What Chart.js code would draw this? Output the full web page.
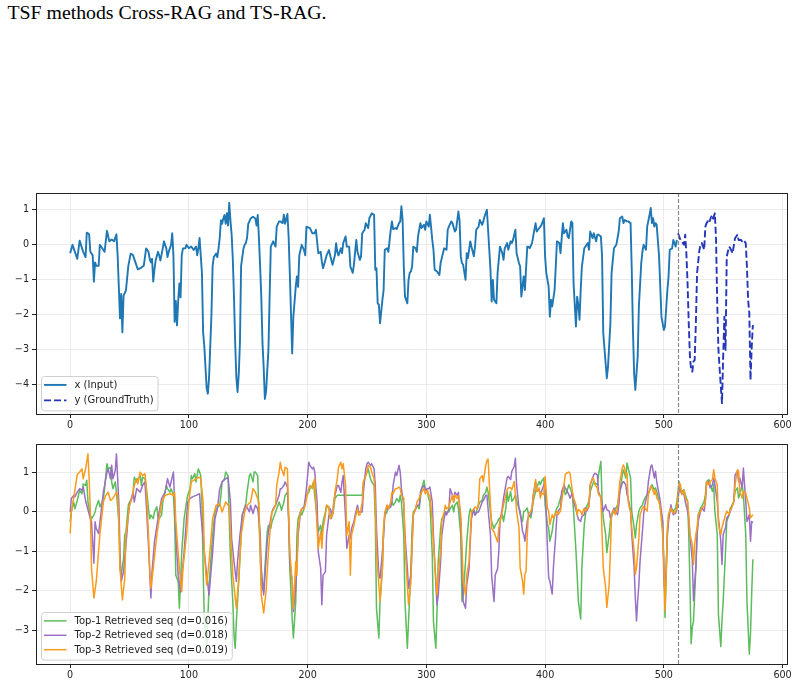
<!DOCTYPE html>
<html>
<head>
<meta charset="utf-8">
<script src="https://cdn.jsdelivr.net/npm/chart.js@4.4.1/dist/chart.umd.min.js"></script>
<style>
  html, body { margin: 0; padding: 0; background: #fff; }
  body { width: 799px; height: 686px; position: relative; overflow: hidden; }
  #caption {
    position: absolute; left: 7.5px; top: 1.5px;
    font: 19.8px "Liberation Serif", "Times New Roman", serif;
    line-height: 20px; color: #000; white-space: nowrap;
  }
  .plot { position: absolute; left: 0; width: 799px; }
  #topWrap { top: 180px; height: 255px; }
  #bottomWrap { top: 435px; height: 251px; }
</style>
</head>
<body>
<div id="caption">TSF methods Cross-RAG and TS-RAG.</div>
<div class="plot" id="topWrap"><canvas id="topChart" width="799" height="255"></canvas></div>
<div class="plot" id="bottomWrap"><canvas id="bottomChart" width="799" height="251"></canvas></div>

<script>
// ---- data: [time index, value] ----
const inputSeries = [[0,-0.24],[2,0],[4,-0.2],[6,-0.4],[8,0.12],[11,-0.2],[13,-0.35],[14,0.35],[16,0.3],[17,-0.2],[19,-0.3],[20,-1.05],[21,-0.5],[22,-0.6],[24,-0.6],[25,0],[27,-0.1],[29,-0.2],[31,0.4],[33,0.1],[35,0.15],[37,0.1],[39,0.3],[40,-0.3],[42,-2.1],[43,-1.4],[44,-2.5],[45,-1.45],[47,-1.3],[49,-0.6],[51,-0.25],[53,-0.3],[55,-0.5],[57,-0.7],[60,-0.65],[62,-0.6],[64,-0.1],[66,-0.2],[67,-0.4],[68,-0.5],[69,-0.4],[70,-1.05],[71,-0.7],[72,-0.45],[74,-0.2],[75,-0.3],[76,-0.45],[78,-0.1],[79,0.1],[81,-0.1],[82,-0.35],[83,-0.2],[85,0],[86,0.33],[87,-0.3],[88,-2.2],[89,-1.6],[90,-2.3],[91,-1.6],[92,-1.1],[93,-1.5],[94,-0.3],[95,-0.1],[97,-0.1],[98,0],[100,-0.1],[102,-0.05],[104,-0.15],[106,-0.05],[107,-0.3],[108,-0.1],[109,0.2],[110,-0.3],[111,-0.8],[112,-2.5],[113,-2.9],[115,-4.1],[116,-4.25],[117,-3.8],[119,-2.0],[120,-0.6],[121,-0.35],[123,-0.25],[124,-0.35],[125,-0.1],[126,0.2],[127,0.7],[128,0.6],[129,0.75],[130,0.85],[131,0.6],[132,0.9],[133,0.55],[134,1.2],[135,0.7],[136,0.3],[137,-0.4],[138,-1.5],[139,-2.8],[140,-3.8],[141,-4.2],[142,-3.7],[143,-2.8],[144,-0.6],[146,-0.1],[147,0],[148,0.05],[149,0.2],[150,0.6],[152,0.75],[154,0.8],[156,0.75],[157,0.55],[158,0.85],[159,0.2],[160,-0.6],[161,-1.5],[162,-2.8],[163,-3.5],[164,-4.4],[165,-4.2],[166,-3.6],[167,-3.0],[168,-1.5],[169,-0.05],[171,0.1],[173,-0.05],[174,0.52],[176,0.67],[177,0.67],[179,0.62],[180,0.86],[181,0.6],[183,0.88],[184,0.24],[185,-0.8],[187,-3.1],[188,-2.05],[190,-1.2],[191,-0.9],[192,-1.2],[193,-0.3],[195,0],[197,-0.15],[198,-0.3],[199,0.52],[202,0.48],[204,0.33],[206,0.33],[207,0.43],[209,-0.24],[211,-0.2],[212,-0.48],[213,-0.67],[215,-0.43],[216,-0.3],[218,-0.15],[219,-0.3],[221,-0.57],[223,-0.3],[224,0.05],[225,-0.2],[226,-0.3],[228,-0.1],[229,-0.24],[230,0.05],[232,0.24],[233,-0.05],[235,-0.05],[236,-0.62],[237,-0.71],[238,-0.8],[239,-0.57],[241,0.14],[242,-0.2],[244,-0.43],[245,-0.33],[246,0.33],[248,0.43],[249,0.62],[251,0.48],[252,0.76],[254,0.9],[256,0.86],[257,-0.71],[258,-0.67],[259,-1.67],[260,-1.71],[261,-2.24],[263,-1.57],[264,-1.29],[265,-0.14],[267,-0.1],[268,-0.2],[270,0.43],[271,0.67],[272,0.45],[274,0.48],[275,0.45],[277,0.62],[278,0.67],[279,1.1],[280,0.71],[281,-0.62],[282,-1.48],[284,-1.67],[285,-1.0],[286,-0.8],[287,-0.76],[288,-0.62],[289,-0.05],[291,-0.1],[292,-0.2],[293,0.24],[295,0.62],[296,0.48],[298,0.57],[299,0.43],[300,0.67],[302,0.52],[303,0.86],[305,0.14],[306,-0.14],[307,-0.71],[309,-0.76],[311,-0.86],[312,-0.52],[314,-0.24],[315,-0.1],[317,-0.14],[318,0.43],[319,0.52],[321,0.67],[322,0.62],[324,0.38],[325,0.43],[327,0.95],[328,0.67],[329,-0.33],[330,-0.52],[331,-0.57],[333,-1.0],[334,-0.24],[335,-0.38],[337,0.1],[338,-0.05],[340,-0.33],[341,-0.05],[342,0.43],[344,0.52],[345,0.71],[347,0.57],[348,0.67],[349,0.81],[351,1.0],[352,0.43],[354,-0.71],[355,-1.62],[356,-1.0],[357,-1.57],[359,-1.67],[360,-0.8],[362,-0.05],[364,-0.24],[365,-0.43],[366,-0.1],[368,0.05],[369,-0.14],[371,0.1],[372,0.05],[373,0.14],[375,0.43],[376,-0.24],[378,-0.52],[379,-0.62],[380,-1.48],[382,-0.9],[383,-1.29],[385,-0.05],[386,-0.05],[387,-0.1],[389,0.05],[390,0.24],[392,0.62],[393,0.38],[394,0.43],[396,0.52],[397,0.57],[399,0.76],[400,-0.33],[401,-0.8],[403,-1.19],[404,-2.05],[405,-1.57],[406,-1.76],[408,-1.29],[409,-0.62],[410,0.1],[412,0.05],[413,-0.24],[415,0.62],[416,0.33],[418,0.43],[419,0.24],[420,0.19],[422,0.67],[423,0.62],[424,-1.1],[426,-2.33],[427,-1.48],[428,-1.71],[429,-2.14],[430,-1.29],[431,-0.62],[433,-0.1],[434,-0.05],[436,0.05],[437,-0.14],[438,0.38],[440,0.19],[441,0.33],[443,0.1],[444,0.29],[445,0.29],[447,0.24],[448,-0.33],[449,-2.52],[451,-3.38],[452,-3.81],[453,-3.48],[455,-2.24],[456,-0.81],[458,-0.1],[459,-0.05],[460,0],[462,0.38],[463,0.76],[465,0.81],[466,0.62],[467,0.71],[469,0.67],[470,0.67],[472,0.62],[473,-0.71],[474,-2.43],[475,-3.67],[476,-4.14],[478,-3.19],[479,-1.76],[481,-0.52],[482,-0.19],[483,0],[485,-0.14],[486,0.52],[488,0.86],[489,1.05],[490,0.62],[491,0.76],[492,0.52],[493,0.62],[494,0.57],[496,-0.33],[497,-1.19],[498,-2.05],[500,-2.43],[501,-2.33],[503,-1.29],[504,-0.9],[505,-0.14],[507,-0.1],[508,0.14],[510,-0.05],[511,0.14]];

const truthSeries = [[512,0.33],[514,0.14],[515,0.1],[517,0],[518,0.29],[519,-0.24],[520,-1.1],[521,-2.24],[522,-3.19],[523,-3.57],[524,-3.62],[525,-3.33],[526,-3.29],[527,-2.24],[528,-0.81],[530,-0.14],[531,0],[532,0.05],[534,-0.14],[535,0.52],[536,0.62],[537,0.67],[538,0.62],[540,0.81],[541,0.71],[543,0.9],[544,0.14],[545,-1.67],[546,-3.0],[548,-4.05],[549,-4.52],[550,-3.19],[551,-2.05],[552,-3.0],[553,-0.33],[555,-0.05],[556,-0.1],[558,-0.24],[559,0],[560,0.19],[562,0.29],[563,0.14],[565,0.14],[566,0.1],[567,0.14],[569,0.05],[570,-0.62],[571,-1.57],[572,-1.95],[573,-3.86],[574,-2.95],[575,-2.29]];

const top1Series = [[0,-0.25],[1,0],[3,0.25],[4,0.08],[6,0.29],[8,0.55],[10,0.46],[11,0.71],[13,0.67],[14,0.8],[15,0.25],[17,-0.08],[18,-0.17],[20,-0.08],[21,0],[22,0.13],[24,0.29],[25,0.13],[27,0.25],[28,0.34],[29,0.59],[31,1.22],[32,1.09],[34,1.13],[35,0.76],[36,0.59],[38,0.76],[39,0.5],[41,-0.25],[42,-1.43],[43,-1.6],[45,-1.18],[46,-0.59],[47,-0.5],[49,0.17],[50,0.25],[52,0.34],[53,0.5],[54,0.88],[56,0.76],[57,0.84],[59,0.92],[60,0.67],[61,0.88],[63,0.84],[64,0.67],[66,0.08],[67,-0.17],[68,-0.08],[70,-0.17],[71,0],[73,0.13],[74,-0.13],[75,-0.17],[77,-0.08],[78,0.25],[80,0.5],[81,0.67],[82,0.59],[84,0.5],[85,0.59],[87,0.42],[88,-0.17],[89,-1.6],[91,-1.76],[92,-2.44],[93,-1.76],[94,-1.01],[96,-0.17],[98,0.25],[99,0.42],[101,0.59],[102,0.92],[103,0.84],[105,0.97],[106,0.76],[108,1.09],[109,1.01],[110,0.92],[111,0.25],[112,-1.43],[113,-2.69],[115,-3.36],[116,-2.69],[117,-1.85],[118,-1.43],[120,-0.59],[122,0],[123,0.08],[126,0.17],[127,0.42],[128,0.76],[130,0.84],[131,1.01],[133,0.92],[134,-0.17],[135,-1.18],[137,-2.27],[138,-3.11],[139,-3.45],[140,-2.77],[142,-1.76],[144,-0.59],[145,-0.08],[148,0.21],[149,0.5],[151,0.92],[152,0.97],[154,0.76],[155,1.01],[156,1.01],[158,0.92],[159,-0.17],[161,-1.85],[163,-2.02],[164,-1.43],[166,-0.5],[167,-0.34],[169,-0.42],[170,-0.25],[171,-0.17],[173,0],[174,0.08],[176,0.25],[177,0.17],[178,0.04],[180,0.25],[181,0.42],[183,0.5],[184,-0.17],[185,-1.43],[187,-2.69],[188,-3.19],[190,-2.27],[191,-0.59],[192,-0.17],[194,0],[195,-0.08],[197,0.08],[198,0.25],[199,0.42],[201,0.5],[202,0.59],[204,0.67],[205,0.76],[206,0.42],[208,-0.17],[209,-0.5],[211,-0.34],[212,-0.59],[213,-0.25],[215,0],[216,0.17],[218,0.08],[219,-0.08],[220,-0.17],[222,0.08],[223,0.34],[225,0.42],[246,0.42],[247,0.76],[249,0.92],[250,1.01],[251,1.09],[253,0.84],[254,0.76],[256,0.67],[257,-0.17],[258,-2.44],[260,-3.19],[261,-2.27],[263,-1.43],[264,-0.42],[265,-0.08],[267,0],[268,0.13],[270,0.17],[271,0.25],[272,0.17],[274,0.25],[275,0.34],[277,0.25],[278,0.42],[279,0.25],[281,-0.59],[282,-2.27],[284,-3.45],[285,-2.77],[287,-1.43],[288,-0.42],[289,0],[291,0.08],[292,0.17],[294,0.08],[295,0.34],[296,0.59],[298,0.8],[299,0.59],[301,0.5],[302,0.34],[303,0.25],[305,-1.09],[306,-2.77],[308,-3.45],[309,-2.52],[310,-1.26],[312,-0.42],[313,-0.17],[315,-0.08],[316,0],[317,0],[319,0],[320,0.08],[322,0.17],[323,0],[324,0.17],[326,0.25],[327,0.08],[329,-0.59],[330,-2.27],[331,-2.1],[333,-1.26],[334,-0.76],[336,-0.08],[337,0.08],[338,0],[340,0],[341,-0.08],[343,0.08],[344,0.17],[345,0.25],[347,0.29],[348,0.42],[350,0.5],[351,0.63],[352,0.5],[354,0],[355,-0.25],[357,-0.42],[358,-0.34],[360,-0.25],[361,-0.17],[362,-0.16],[364,-0.07],[365,-0.24],[367,0.1],[368,0.52],[369,0.27],[371,0.52],[372,0.27],[374,0.35],[375,0.44],[376,0.27],[378,0.1],[379,-0.07],[381,-0.24],[382,0.02],[383,0.02],[385,0.1],[386,-0.07],[388,-0.15],[389,0.02],[390,0.27],[392,0.52],[393,0.61],[395,0.77],[396,0.69],[397,0.77],[399,0.86],[400,0.18],[402,-0.32],[403,-0.4],[404,-0.74],[406,-0.49],[407,-0.24],[409,0.02],[410,0.1],[411,0.14],[413,0.35],[414,0.44],[416,0.61],[417,0.44],[418,0.48],[420,0.69],[421,0.61],[423,0.44],[424,0.02],[426,-0.99],[427,-1.58],[428,-2.25],[430,-2.71],[431,-1.41],[433,-0.32],[434,-0.07],[435,0.14],[437,0.27],[438,0.52],[440,0.69],[441,0.77],[442,0.73],[444,0.69],[445,0.94],[447,1.28],[448,0.27],[449,-0.15],[451,-0.57],[452,-1.03],[454,-0.57],[455,-0.24],[456,-0.11],[458,0.02],[459,0.06],[461,0.18],[462,0.35],[463,0.52],[465,0.94],[466,1.07],[468,0.86],[469,1.24],[470,1.11],[472,0.86],[473,0.02],[475,-0.4],[476,-0.66],[477,-0.32],[479,0.02],[480,0.1],[482,0.18],[483,0.27],[484,0.35],[486,0.44],[487,0.48],[489,0.61],[490,0.69],[492,0.56],[493,0.61],[494,0.52],[496,0.27],[497,0.1],[499,-0.24],[500,-1.24],[501,-2.67],[502,-1.58],[503,-0.57],[504,-0.07],[506,0.1],[507,0.06],[508,0.02],[510,0.1],[511,0.27],[513,0.77],[514,0.61],[515,0.52],[517,0.56],[518,0.44],[520,0.27],[521,-0.57],[522,-1.83],[523,-3.34],[524,-2.92],[525,-2.76],[527,-1.41],[528,-0.57],[529,-0.07],[531,0.1],[532,0.14],[534,0.27],[535,0.44],[536,0.77],[538,0.82],[539,0.69],[541,0.52],[542,0.69],[543,0.02],[545,-0.57],[546,-2.59],[548,-3.41],[549,-2.76],[550,-2.25],[552,-0.99],[553,-0.24],[555,-0.07],[556,0.1],[557,0.14],[559,0.27],[560,0.52],[562,0.61],[563,0.35],[564,0.44],[566,0.69],[567,0.44],[569,-0.57],[570,-2.25],[572,-3.6],[573,-3.09],[574,-2.08],[575,-1.2]];

const top2Series = [[0,0],[1,0.34],[3,0.42],[4,0.38],[6,0.5],[8,0.59],[10,0.55],[11,0.63],[13,0.29],[14,0.17],[17,-0.17],[18,-0.25],[20,-1.3],[21,-0.25],[22,-0.42],[24,-0.55],[27,0.25],[28,0.5],[31,1.01],[32,1.09],[34,0.84],[35,1.18],[36,0.84],[38,1.05],[39,1.47],[41,0.25],[42,-1.01],[43,-1.76],[45,-1.51],[47,-0.84],[49,-0.08],[50,0.17],[53,0.5],[54,0.25],[56,0.59],[59,0.5],[61,0.67],[63,0.76],[64,0.25],[66,-0.84],[68,-2.18],[69,-1.51],[71,-0.76],[74,-0.17],[77,0.34],[80,0.5],[81,0.67],[82,0.84],[84,0.63],[87,1.01],[88,0.25],[89,-0.59],[91,-1.6],[93,-2.02],[94,-1.68],[96,-1.01],[98,-0.17],[99,0.25],[101,0.34],[103,0.38],[106,0.42],[109,0.46],[110,0],[113,-1.01],[115,-1.6],[117,-2.1],[120,-1.01],[122,-0.17],[124,0.08],[126,0.59],[128,0.76],[131,0.84],[133,0.88],[135,0.25],[136,-0.67],[138,-1.26],[140,-1.76],[141,-1.26],[143,-0.59],[145,-0.08],[148,0.17],[151,0],[152,0.17],[154,-0.04],[156,0.17],[158,0.08],[160,-0.5],[161,-1.43],[163,-2.1],[164,-1.68],[166,-0.76],[167,-0.5],[169,-0.17],[170,0],[171,0.08],[173,0.17],[174,0.25],[176,0.42],[177,0.59],[178,0.59],[180,0.67],[181,0.76],[183,0.63],[184,-0.17],[185,-1.26],[187,-1.76],[188,-2.52],[190,-1.93],[191,-1.26],[192,-0.59],[194,0],[195,0.08],[197,0.13],[198,0.34],[199,0.59],[201,1.26],[202,1.18],[204,1.09],[205,1.13],[206,1.01],[208,0.25],[209,-1.01],[211,-1.43],[212,-2.35],[213,-1.6],[215,-1.51],[216,-0.59],[218,-0.08],[219,0.08],[221,-0.08],[222,0.25],[223,0.42],[225,0.67],[226,0.67],[228,0.5],[229,0.76],[230,0.92],[232,-0.17],[233,-0.92],[235,-0.59],[236,-0.67],[237,-0.42],[239,-0.25],[240,-0.08],[242,0.17],[243,0],[244,0],[246,0],[247,0.5],[249,1.09],[250,1.22],[251,1.26],[253,1.18],[254,1.22],[256,1.09],[257,0.67],[258,-0.42],[260,-1.6],[261,-1.68],[263,-1.01],[264,-0.59],[265,-0.08],[267,0.17],[268,0.08],[270,0.13],[271,0.25],[272,0.67],[274,1.01],[275,0.92],[277,1.18],[278,1.01],[279,0.59],[281,0.17],[282,-0.59],[284,-1.43],[285,-1.93],[287,-1.6],[288,-0.84],[289,-0.08],[291,0.08],[292,0.17],[294,0.17],[295,0.5],[296,0.59],[298,0.67],[299,0.55],[301,0.59],[302,0.59],[303,0.63],[305,0.25],[306,-0.59],[308,-1.85],[309,-2.35],[310,-2.1],[312,-1.26],[313,-0.59],[315,-0.17],[316,0],[317,-0.08],[319,0.08],[320,0.59],[322,0.42],[323,0.25],[324,0.5],[326,0.42],[327,0.5],[329,-0.25],[330,-1.26],[331,-2.27],[333,-2.44],[334,-1.85],[336,-1.43],[337,-0.76],[338,-0.17],[340,0.08],[341,-0.08],[343,0],[344,0],[345,0.08],[347,0.25],[348,0.29],[350,0.42],[351,0.42],[352,0.08],[354,-0.59],[355,-1.6],[357,-2.27],[358,-1.6],[360,-1.43],[361,-1.01],[362,-0.25],[364,0.1],[365,0.35],[367,0.69],[368,0.86],[369,0.9],[371,0.82],[372,1.03],[374,1.15],[375,1.36],[376,0.69],[378,0.1],[379,0.02],[381,-0.49],[382,-0.57],[383,-0.74],[385,-0.24],[386,-0.11],[388,-0.07],[389,0.06],[390,0.44],[392,0.77],[393,0.52],[395,0.56],[396,0.44],[397,0.52],[399,0.69],[400,0.77],[402,-0.91],[403,-1.66],[404,-1.75],[406,-2.08],[407,-1.41],[409,-0.57],[410,-0.07],[411,0.02],[413,0.1],[414,0.52],[416,0.69],[417,0.61],[418,0.56],[420,0.44],[421,0.35],[423,0.48],[424,0.27],[426,0.06],[427,-0.07],[428,-0.19],[430,-0.24],[431,-0.11],[433,-0.07],[434,0.1],[435,0.02],[437,0.14],[438,0.69],[440,0.86],[441,0.94],[442,0.98],[444,0.94],[445,0.52],[447,0.35],[448,0.18],[449,0.02],[451,0.18],[452,0.06],[454,0.02],[455,-0.15],[456,-0.07],[458,0.1],[459,0.02],[461,-0.07],[462,0.14],[463,0.52],[465,0.73],[466,0.77],[468,0.69],[469,0.44],[470,0.35],[472,0.02],[473,-0.57],[475,-1.41],[476,-2.17],[477,-2.76],[478,-2.25],[479,-1.83],[480,-1.24],[482,-0.49],[483,-0.07],[484,0.18],[486,0.44],[487,0.77],[489,1.15],[490,1.19],[492,0.86],[493,1.03],[494,0.77],[496,0.44],[497,0.27],[499,-0.24],[500,-1.66],[501,-2.08],[502,-1.41],[503,-0.57],[504,-0.24],[506,0.18],[507,0.02],[508,-0.07],[510,-0.03],[511,0.06],[513,0.61],[514,0.52],[515,0.48],[517,0.44],[518,0.27],[520,0.02],[521,-0.15],[522,-0.57],[524,-1.24],[525,-2.25],[527,-1.41],[528,-0.57],[529,-0.24],[531,0.02],[532,0.1],[534,0.02],[535,0.27],[536,0.69],[538,0.77],[539,0.61],[541,0.69],[542,0.86],[543,0.69],[545,0.27],[546,-0.15],[548,-0.74],[549,-1.33],[550,-0.57],[552,-0.4],[553,-0.15],[555,-0.07],[556,0.02],[557,0.1],[559,0.27],[560,0.94],[562,1.03],[563,0.77],[564,0.86],[566,0.61],[567,1.11],[568,0.69],[569,0.27],[570,-0.24],[572,-0.07],[573,-0.74],[574,-0.24],[575,-0.28]];

const top3Series = [[0,-0.55],[1,0],[4,0.55],[6,0.95],[8,1.01],[10,1.09],[11,0.84],[13,1.09],[15,1.47],[16,0.84],[17,0],[18,-1.43],[20,-2.18],[22,-1.76],[25,-0.59],[28,0.25],[30,0.42],[32,0.5],[34,0.29],[36,0.34],[39,0.5],[40,0.42],[41,-0.17],[42,-1.43],[44,-2.23],[46,-1.68],[47,-0.59],[50,0.17],[52,0.34],[54,0.67],[56,0.84],[57,0.71],[59,1.01],[61,0.92],[63,0.97],[64,0.67],[66,-0.59],[67,-1.43],[68,-1.93],[70,-1.43],[73,-0.59],[77,0.25],[80,0.42],[84,0.46],[87,0.42],[88,0.5],[89,-0.25],[92,-1.43],[94,-2.02],[95,-1.43],[98,-0.59],[100,0.25],[102,0.76],[106,0.84],[109,0.88],[110,0.84],[112,0.25],[113,-1.01],[115,-1.85],[117,-1.26],[120,-0.17],[123,0.17],[126,0.21],[128,0],[131,0.25],[134,0.13],[135,-0.5],[137,-1.6],[140,-2.44],[142,-1.68],[144,-0.59],[147,0],[149,0.17],[152,0.25],[154,0.59],[156,0.5],[159,0.25],[161,-2.1],[163,-2.56],[165,-2.02],[167,-1.01],[169,-0.25],[170,0],[171,0.04],[173,0.17],[174,0.67],[176,1.01],[177,1.26],[178,1.09],[180,0.92],[181,1.13],[183,1.09],[184,0],[185,-1.01],[187,-1.76],[188,-2.44],[190,-1.26],[191,-1.6],[192,-0.42],[194,0],[195,0.08],[197,0.08],[198,0.17],[199,0.34],[201,0.59],[202,0.67],[204,0.59],[205,0.76],[206,0.84],[208,-0.42],[209,-0.92],[211,-0.5],[212,-0.92],[213,-0.42],[215,-0.08],[216,0.17],[218,0.13],[219,-0.17],[221,-0.08],[222,0.17],[223,0.5],[225,0.84],[226,1.13],[228,1.26],[229,1.09],[230,1.22],[232,0.67],[233,-0.59],[235,-0.25],[236,-1.6],[237,-0.59],[239,-0.34],[240,-0.17],[242,0.08],[243,-0.08],[244,-0.08],[246,0.25],[247,0.76],[249,0.92],[250,1.01],[251,1.18],[253,1.13],[254,1.01],[256,0.84],[257,0.25],[258,-1.01],[260,-1.85],[261,-2.27],[263,-1.43],[264,-0.42],[265,0],[267,0.17],[268,0.08],[270,0.25],[271,0.5],[272,0.46],[274,0.59],[275,0.59],[277,0.63],[278,0.59],[279,0.42],[281,0.34],[282,-0.84],[284,-1.85],[285,-2.35],[287,-1.76],[288,-0.84],[289,-0.08],[291,0.08],[292,0.25],[294,0.34],[295,0.42],[296,0.5],[298,0.59],[299,0.46],[301,0.55],[302,0.42],[303,0.42],[305,-0.25],[306,-0.84],[308,-1.68],[309,-2.1],[310,-1.6],[312,-1.01],[313,-0.25],[315,0],[316,0.17],[317,0.08],[319,0.13],[320,0.25],[322,0.42],[323,0.25],[324,0.42],[326,0.34],[327,0.42],[329,-0.08],[330,-0.84],[331,-1.76],[333,-2.1],[334,-1.6],[336,-1.26],[337,-0.59],[338,0],[340,0.08],[341,0.13],[343,0.08],[344,0.25],[345,0.84],[347,0.92],[348,0.76],[350,1.18],[351,1.3],[352,1.34],[354,0.17],[355,-0.42],[357,-0.5],[358,-0.59],[360,-0.76],[361,-0.42],[362,-0.25],[364,0.02],[365,0.18],[367,0.44],[368,0.56],[369,0.61],[371,0.61],[372,0.56],[374,0.77],[375,0.44],[376,0.02],[378,-0.4],[379,-1.41],[381,-1.75],[382,-2.08],[383,-1.58],[384,-1.5],[385,-0.57],[386,-0.07],[388,0.02],[389,0.1],[390,0.35],[392,0.82],[393,0.52],[395,0.61],[396,0.35],[397,0.48],[399,0.44],[400,0.9],[402,0.1],[403,0.02],[404,-0.32],[406,-0.07],[407,-0.15],[409,-0.03],[410,0.02],[411,-0.07],[413,0.02],[414,0.27],[416,0.69],[417,0.94],[418,0.98],[420,1.01],[421,0.98],[423,0.52],[424,0.35],[426,0.18],[427,-0.07],[428,0.06],[430,0.02],[431,-0.07],[433,0.1],[434,0.02],[435,0.06],[437,0.14],[438,0.69],[440,0.86],[441,0.82],[442,0.69],[444,0.61],[445,0.44],[447,0.39],[448,-0.57],[449,-1.41],[451,-1.92],[452,-2.42],[454,-1.83],[455,-0.99],[456,-0.07],[458,0.06],[459,-0.07],[461,0.1],[462,0.44],[463,0.77],[465,1.11],[466,1.19],[467,1.11],[468,0.94],[469,0.98],[470,0.27],[471,0.1],[472,0.02],[473,-0.4],[475,-0.99],[476,-1.58],[477,-1.41],[479,-0.66],[480,-0.07],[482,0.1],[483,0.14],[484,0.1],[486,0.02],[487,0.44],[489,0.65],[490,0.61],[492,0.44],[493,0.56],[494,0.35],[496,0.27],[497,0.1],[499,-0.57],[500,-1.24],[501,-2.5],[502,-1.58],[503,-0.4],[504,-0.07],[506,0.1],[507,0.02],[508,-0.03],[510,0.02],[511,0.1],[513,0.73],[514,0.69],[515,0.44],[517,0.56],[518,0.35],[520,0.27],[521,-0.07],[522,-0.57],[524,-0.82],[525,-1.33],[526,-0.82],[527,-0.57],[528,-0.4],[529,-0.07],[531,0.02],[532,0.1],[534,0.14],[535,0.27],[536,0.77],[538,0.69],[539,0.77],[541,0.82],[542,1.07],[543,0.86],[545,0.69],[546,-0.32],[548,-0.57],[549,-0.4],[550,-0.28],[552,-0.07],[553,0.02],[555,-0.07],[556,0.06],[557,0.1],[559,0.27],[560,0.69],[562,1.07],[563,1.03],[564,0.52],[566,0.35],[567,0.52],[569,0.48],[570,0.35],[572,0.1],[573,-0.15],[574,-0.11],[575,-0.07]];

const splitIndex = 512;
const xTicks = [0, 100, 200, 300, 400, 500, 600];
const topYTicks = [-4, -3, -2, -1, 0, 1];
const bottomYTicks = [-3, -2, -1, 0, 1];
const topLabels = ["x (Input)", "y (GroundTruth)"];
const bottomLabels = ["Top-1 Retrieved seq (d=0.016)", "Top-2 Retrieved seq (d=0.018)", "Top-3 Retrieved seq (d=0.019)"];

const FONT = '"DejaVu Sans", Verdana, sans-serif';
const fmt = v => (v < 0 ? '\u2212' + Math.abs(v) : String(v));

// frame, split line and legend box drawn like matplotlib
const axesDecor = {
  id: 'axesDecor',
  afterDatasetsDraw(chart) {
    const { ctx, chartArea: a, scales } = chart;
    const px = Math.round(scales.x.getPixelForValue(splitIndex)) + 0.5;
    ctx.save();
    ctx.strokeStyle = '#8a8a8a';
    ctx.lineWidth = 1.2;
    ctx.setLineDash([4, 2]);
    ctx.beginPath();
    ctx.moveTo(px, a.top);
    ctx.lineTo(px, a.bottom);
    ctx.stroke();
    ctx.restore();
  },
  afterDraw(chart, args, opts) {
    const { ctx, chartArea: a } = chart;
    ctx.save();
    // spines
    ctx.strokeStyle = '#222';
    ctx.lineWidth = 1;
    ctx.strokeRect(Math.round(a.left) + 0.5, Math.round(a.top) + 0.5,
                   Math.round(a.right - a.left), Math.round(a.bottom - a.top));
    // legend
    const items = chart.data.datasets;
    ctx.font = '10px ' + FONT;
    let maxW = 0;
    items.forEach(d => { maxW = Math.max(maxW, ctx.measureText(d.label).width); });
    const row = opts.rowHeight;
    const w = 33 + maxW + 4.5;
    const h = (items.length - 1) * row + 18.8;
    const x0 = Math.round(a.left + 5) + 0.5;
    const y0 = Math.round(a.bottom - 4 - h) + 0.5;
    ctx.fillStyle = 'rgba(255,255,255,0.8)';
    ctx.strokeStyle = '#d0d0d0';
    ctx.beginPath();
    ctx.roundRect(x0, y0, w, h, 3);
    ctx.fill();
    ctx.stroke();
    items.forEach((d, i) => {
      const cy = y0 + 8.4 + i * row;
      ctx.strokeStyle = d.borderColor;
      ctx.lineWidth = d.borderWidth;
      ctx.setLineDash(d.borderDash || []);
      ctx.beginPath();
      ctx.moveTo(x0 + 2.5, cy);
      ctx.lineTo(x0 + 25, cy);
      ctx.stroke();
      ctx.setLineDash([]);
      ctx.fillStyle = '#222';
      ctx.textBaseline = 'middle';
      ctx.fillText(d.label, x0 + 33, cy + 0.5);
    });
    ctx.restore();
  }
};

function makeOptions(yMin, yMax, yTicks, pad, xHeight, rowHeight) {
  const tickFont = { family: FONT, size: 9.6 };
  return {
    responsive: false,
    animation: false,
    events: [],
    layout: { padding: { top: pad, right: 12, left: 0, bottom: 0 } },
    elements: { point: { radius: 0 }, line: { tension: 0, borderJoinStyle: 'round' } },
    plugins: {
      legend: { display: false },
      tooltip: { enabled: false },
      axesDecor: { rowHeight: rowHeight }
    },
    scales: {
      x: {
        type: 'linear',
        min: -28.75,
        max: 603.75,
        afterBuildTicks: s => { s.ticks = xTicks.map(v => ({ value: v })); },
        afterFit: s => { s.height = xHeight; },
        grid: { color: '#e6e6e6', lineWidth: 0.8, tickColor: '#222', tickLength: 4, tickWidth: 1 },
        border: { display: false },
        ticks: { font: tickFont, color: '#222', padding: 2, maxRotation: 0, callback: v => fmt(v) }
      },
      y: {
        type: 'linear',
        min: yMin,
        max: yMax,
        afterBuildTicks: s => { s.ticks = yTicks.map(v => ({ value: v })); },
        afterFit: s => { s.width = 36; },
        grid: { color: '#e6e6e6', lineWidth: 0.8, tickColor: '#222', tickLength: 4, tickWidth: 1 },
        border: { display: false },
        ticks: { font: tickFont, color: '#222', padding: 3, callback: v => fmt(v) }
      }
    }
  };
}

new Chart(document.getElementById('topChart'), {
  type: 'line',
  data: {
    datasets: [
      { label: topLabels[0], data: inputSeries, borderColor: '#1f77b4', borderWidth: 1.9, order: 2 },
      { label: topLabels[1], data: truthSeries, borderColor: '#2536b8', borderWidth: 1.9, borderDash: [7, 3], order: 1 }
    ]
  },
  options: makeOptions(-4.83, 1.48, topYTicks, 13, 21, 15.5),
  plugins: [axesDecor]
});

new Chart(document.getElementById('bottomChart'), {
  type: 'line',
  data: {
    datasets: [
      { label: bottomLabels[0], data: top1Series, borderColor: '#5bbd5b', borderWidth: 1.5, order: 3 },
      { label: bottomLabels[1], data: top2Series, borderColor: '#9a6fc4', borderWidth: 1.5, order: 2 },
      { label: bottomLabels[2], data: top3Series, borderColor: '#fb9b1c', borderWidth: 1.5, order: 1 }
    ]
  },
  options: makeOptions(-3.85, 1.72, bottomYTicks, 9, 22, 14.4),
  plugins: [axesDecor]
});
</script>
</body>
</html>
